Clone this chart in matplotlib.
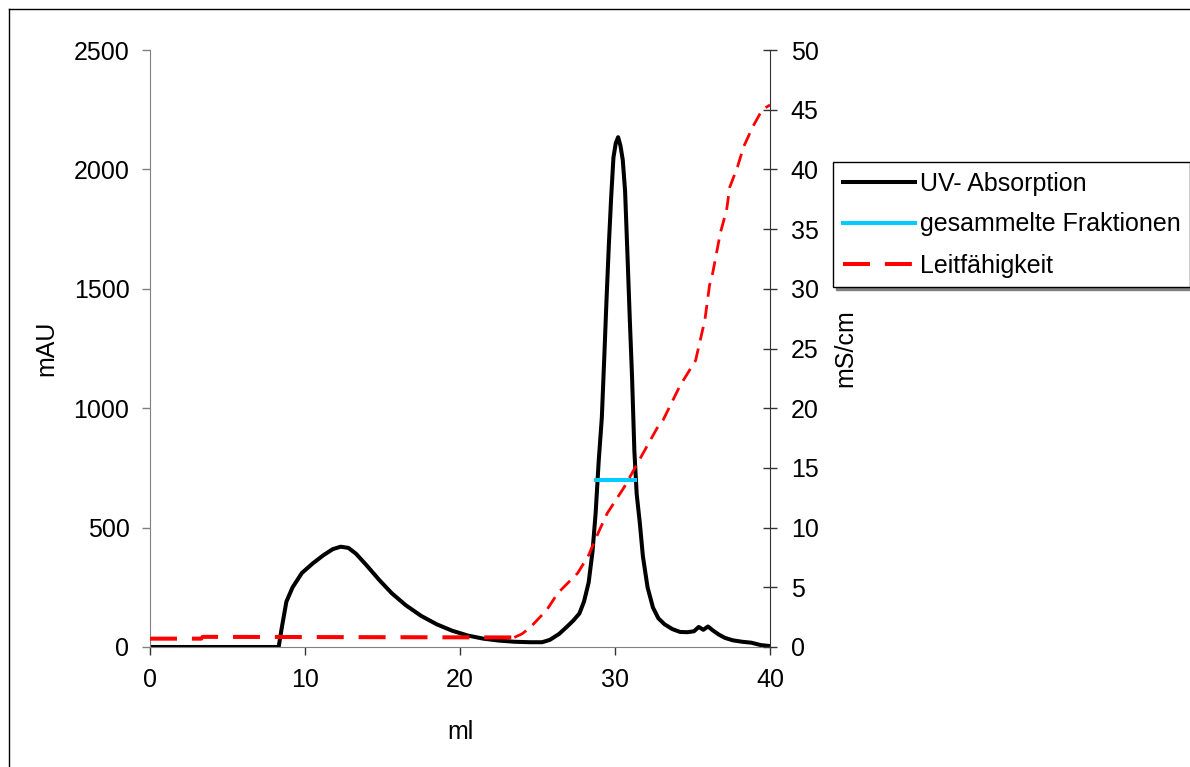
import matplotlib
matplotlib.use("Agg")
import matplotlib.pyplot as plt
from matplotlib.lines import Line2D

plt.rcParams["font.family"] = ["Liberation Sans", "DejaVu Sans"]
plt.rcParams["font.size"] = 18

# UV absorption (mAU) vs elution volume (ml)
uv_ml = [0, 8.3, 8.5, 8.8, 9.2, 9.8, 10.5, 11.2, 11.8, 12.3, 12.8, 13.3, 14.0,
         14.8, 15.6, 16.5, 17.5, 18.5, 19.5, 20.5, 21.5, 22.5, 23.5, 24.5, 25.3,
         25.8, 26.4, 26.9, 27.3, 27.7, 28.0, 28.3, 28.55, 28.75, 28.95, 29.15,
         29.3, 29.45, 29.6, 29.75, 29.9, 30.05, 30.2, 30.35, 30.5, 30.65, 30.8,
         30.95, 31.1, 31.25, 31.4, 31.6, 31.8, 32.1, 32.45, 32.8, 33.2, 33.7,
         34.2, 34.7, 35.1, 35.4, 35.7, 36.0, 36.3, 36.7, 37.1, 37.6, 38.2, 38.8,
         39.4, 40.0]
uv_mau = [0, 0, 80, 190, 250, 310, 350, 385, 410, 420, 415, 390, 340,
          280, 225, 175, 130, 95, 68, 48, 35, 27, 22, 20, 20,
          30, 55, 85, 110, 140, 190, 270, 400, 560, 780, 960,
          1200, 1450, 1680, 1880, 2050, 2110, 2135, 2100, 2040, 1910, 1650,
          1380, 1130, 820, 640, 520, 380, 250, 165, 120, 95, 75,
          63, 62, 66, 84, 72, 86, 70, 52, 38, 28, 22, 18,
          8, 4]

# collected fractions
frac_ml = [28.75, 31.3]
frac_mau = [700, 700]

# conductivity (mS/cm)
cond_ml = [0, 3.3, 3.4, 23.5, 24.0, 24.5, 25.6, 26.3, 27.6, 28.3, 29.0, 29.5,
           30.6, 31.2, 32.1, 32.7, 33.1, 34.2, 35.2, 35.5, 35.8, 36.1, 36.3,
           36.8, 37.2, 37.4, 37.9, 38.3, 38.9, 39.5, 40.0]
cond_ms = [0.7, 0.7, 0.85, 0.8, 1.1, 1.6, 3.1, 4.5, 6.2, 7.7, 9.8, 11.2,
           13.4, 14.8, 16.9, 18.3, 19.0, 21.9, 24.0, 25.7, 27.4, 30.3, 31.3,
           34.7, 36.6, 38.5, 40.2, 41.9, 43.6, 45.0, 45.4]
flat_end = 4  # isocratic part of the run, before the gradient starts

labels = ["UV- Absorption", "gesammelte Fraktionen", "Leitfähigkeit"]

W, H = 1190, 767
fig = plt.figure(figsize=(W / 100, H / 100), dpi=100)
ax = fig.add_axes([150 / W, 1 - 647 / H, 620 / W, 597 / H])
ax2 = ax.twinx()

uv_line, = ax.plot(uv_ml, uv_mau, color="black", lw=2.9, solid_joinstyle="round")
frac_line, = ax.plot(frac_ml, frac_mau, color="#00CCFF", lw=2.9)
cond_line, = ax2.plot(cond_ml[:flat_end], cond_ms[:flat_end], color="#FF0000",
                      lw=2.9, dashes=(6.7, 3.7))
ax2.plot(cond_ml[flat_end - 1:], cond_ms[flat_end - 1:], color="#FF0000",
         lw=2.0, dashes=(5, 3))

ax.set_xlim(0, 40)
ax.set_ylim(0, 2500)
ax2.set_ylim(0, 50)
ax.set_xticks(range(0, 41, 10))
ax.set_yticks(range(0, 2501, 500))
ax2.set_yticks(range(0, 51, 5))

for s in ("top", "right"):
    ax.spines[s].set_visible(False)
for s in ("top", "left", "bottom"):
    ax2.spines[s].set_visible(False)
ax.spines["left"].set_color("#808080")
ax.spines["bottom"].set_color("#808080")
ax2.spines["right"].set_color("#333333")

ax.tick_params(axis="y", direction="out", length=5.8, width=1, color="#808080", pad=9)
ax.tick_params(axis="x", direction="out", length=5.8, width=1, color="#333333", pad=9)
ax2.tick_params(axis="y", direction="inout", length=10, width=1, color="#333333", pad=10)

ax.set_xlabel("ml")
ax.set_ylabel("mAU")
ax2.set_ylabel("mS/cm")
ax.xaxis.set_label_coords(0.5, -0.122)
ax.yaxis.set_label_coords(-0.148, 0.5)
ax2.yaxis.set_label_coords(1.102, 0.5)

leg = ax2.legend([uv_line, frac_line, cond_line], labels,
                 loc="upper left", bbox_to_anchor=(833 / W, 1 - 162 / H),
                 bbox_transform=fig.transFigure, borderaxespad=0,
                 borderpad=0.38, handlelength=2.9, handletextpad=0.2,
                 labelspacing=0.68, fancybox=False, edgecolor="black",
                 framealpha=1, shadow={"color": "#808080", "alpha": 1})
leg.get_frame().set_linewidth(1)

# outer chart border (only left and top edges fall inside the image)
fig.add_artist(Line2D([8.5 / W, 8.5 / W], [0, 1 - 8.5 / H], color="black", lw=1,
                      transform=fig.transFigure))
fig.add_artist(Line2D([8.5 / W, 1], [1 - 8.5 / H, 1 - 8.5 / H], color="black", lw=1,
                      transform=fig.transFigure))

fig.savefig("out.png", dpi=100)
